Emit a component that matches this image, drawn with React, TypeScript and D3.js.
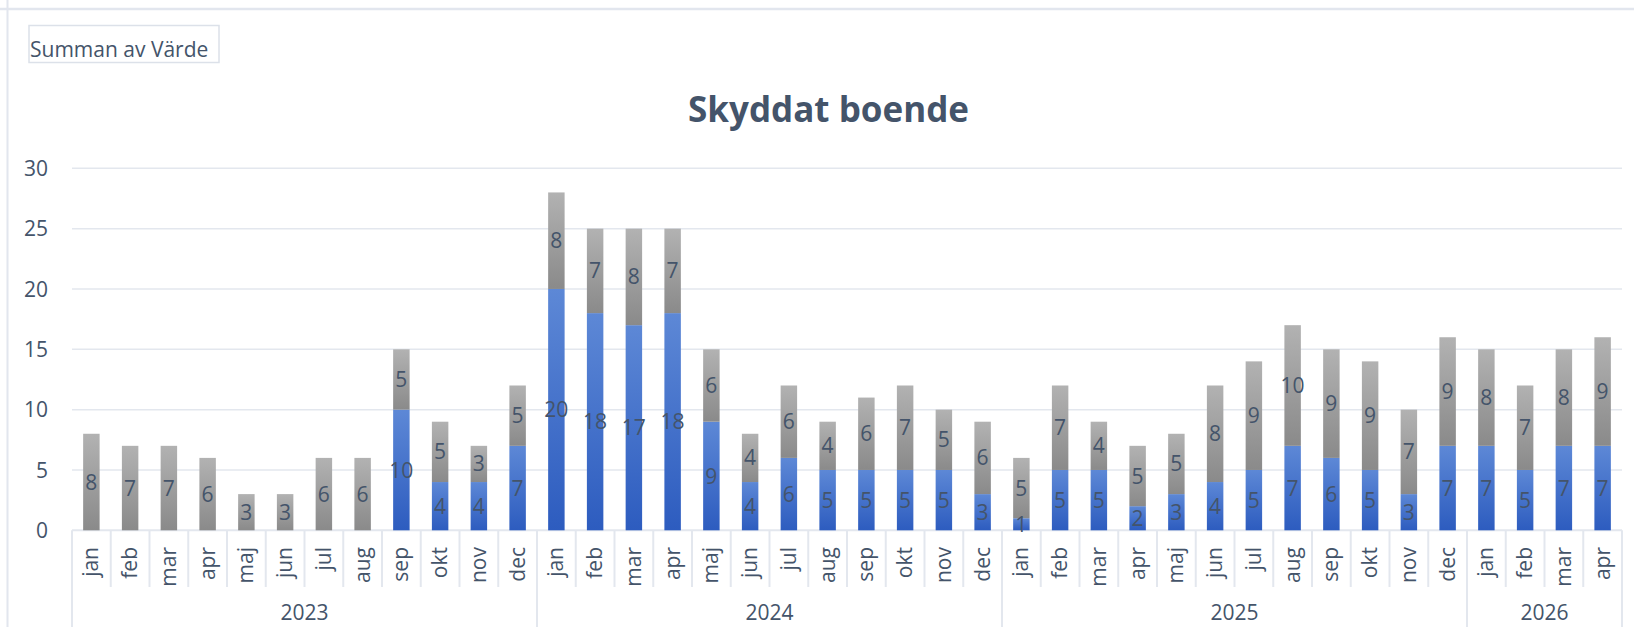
import React from "react";
import * as d3 from "d3";

const years = ["2023", "2024", "2025", "2026"];
const monthsPerYear = [12, 12, 12, 4];
const monthNames = ["jan", "feb", "mar", "apr", "maj", "jun", "jul", "aug", "sep", "okt", "nov", "dec"];
const blueValues = [
  0, 0, 0, 0, 0, 0, 0, 0, 10, 4, 4, 7,
  20, 18, 17, 18, 9, 4, 6, 5, 5, 5, 5, 3,
  1, 5, 5, 2, 3, 4, 5, 7, 6, 5, 3, 7,
  7, 5, 7, 7,
];
const grayValues = [
  8, 7, 7, 6, 3, 3, 6, 6, 5, 5, 3, 5,
  8, 7, 8, 7, 6, 4, 6, 4, 6, 7, 5, 6,
  5, 7, 4, 5, 5, 8, 9, 10, 9, 9, 7, 9,
  8, 7, 8, 9,
];
const yTicks = [0, 5, 10, 15, 20, 25, 30];
const title = "Skyddat boende";
const fieldLabel = "Summan av Värde";

const W = 1634;
const H = 627;
const left = 72;
const right = 1622;
const top = 168.3;
const bottom = 530.3;
const textColor = "#44546A";
const gridColor = "#E3E7EE";
const font = "'Open Sans', 'Noto Sans', sans-serif";
const fs = 21;

type Cat = { key: string; month: string; year: string; blue: number; gray: number };

const cats: Cat[] = [];
{
  let i = 0;
  years.forEach((y, yi) => {
    for (let m = 0; m < monthsPerYear[yi]; m++) {
      cats.push({ key: `${y}-${m}`, month: monthNames[m], year: y, blue: blueValues[i], gray: grayValues[i] });
      i++;
    }
  });
}

export default function App() {
  const x = d3.scaleBand<string>().domain(cats.map((c) => c.key)).range([left, right]).paddingInner(0.575).paddingOuter(0.2875);
  const xOuter = d3.scaleBand<string>().domain(cats.map((c) => c.key)).range([left, right]).padding(0);
  const y = d3.scaleLinear().domain([0, 30]).range([bottom, top]);
  const bw = x.bandwidth();

  const yearGroups: { year: string; x0: number; x1: number }[] = [];
  let idx = 0;
  years.forEach((yr, yi) => {
    const first = cats[idx].key;
    const last = cats[idx + monthsPerYear[yi] - 1].key;
    yearGroups.push({ year: yr, x0: xOuter(first)!, x1: xOuter(last)! + xOuter.bandwidth() });
    idx += monthsPerYear[yi];
  });

  return (
    <svg width={W} height={H} style={{ position: "absolute", left: 0, top: 0, background: "#fff" }}>
      <defs>
        <linearGradient id="gBlue" x1="0" y1="0" x2="0" y2="1">
          <stop offset="0" stopColor="#5D88D6" />
          <stop offset="1" stopColor="#2D5CBF" />
        </linearGradient>
        <linearGradient id="gGray" x1="0" y1="0" x2="0" y2="1">
          <stop offset="0" stopColor="#B2B2B2" />
          <stop offset="1" stopColor="#8A8A8A" />
        </linearGradient>
      </defs>
      {/* frame lines */}
      <line x1={0} x2={W} y1={9} y2={9} stroke="#E2E6EE" strokeWidth={2.5} />
      <line x1={7.5} x2={7.5} y1={0} y2={H} stroke="#E2E6EE" strokeWidth={2} />
      {/* field button */}
      <rect x={29} y={25.5} width={190} height={37} fill="none" stroke="#DCE1E9" strokeWidth={1.5} />
      <text x={30} y={57} fontFamily={font} fontSize={fs} fill={textColor}>{fieldLabel}</text>
      {/* title */}
      <text x={828.5} y={122} textAnchor="middle" fontFamily={font} fontWeight="bold" fontSize={35} fill={textColor}>{title}</text>
      {/* grid */}
      {yTicks.map((t) => (
        <g key={t}>
          <line x1={left} x2={right} y1={y(t)} y2={y(t)} stroke={gridColor} strokeWidth={t === 0 ? 2 : 1.5} />
          <text x={48} y={y(t)} dy="0.36em" textAnchor="end" fontFamily={font} fontSize={fs} fill={textColor}>{t}</text>
        </g>
      ))}
      {/* bars */}
      {cats.map((c) => {
        const bx = x(c.key)!;
        const yb0 = y(0);
        const yb1 = y(c.blue);
        const yg1 = y(c.blue + c.gray);
        return (
          <g key={c.key}>
            {c.blue > 0 && <rect x={bx} y={yb1} width={bw} height={yb0 - yb1} fill="url(#gBlue)" />}
            {c.gray > 0 && <rect x={bx} y={yg1} width={bw} height={yb1 - yg1} fill="url(#gGray)" />}
          </g>
        );
      })}
      {cats.map((c) => {
        const cx = x(c.key)! + bw / 2;
        return (
          <g key={c.key + "l"} fontFamily={font} fontSize={fs} fill={textColor} textAnchor="middle">
            {c.blue > 0 && <text x={cx} y={(y(0) + y(c.blue)) / 2} dy="0.36em">{c.blue}</text>}
            {c.gray > 0 && <text x={cx} y={(y(c.blue) + y(c.blue + c.gray)) / 2} dy="0.36em">{c.gray}</text>}
          </g>
        );
      })}
      {/* category axis */}
      {cats.map((c, i) => {
        const x0 = xOuter(c.key)!;
        const cx = x0 + xOuter.bandwidth() / 2;
        return (
          <g key={c.key + "a"}>
            {i > 0 && <line x1={x0} x2={x0} y1={bottom} y2={587} stroke={gridColor} strokeWidth={2} />}
            <text transform={`translate(${cx + 7},547) rotate(-90)`} textAnchor="end" fontFamily={font} fontSize={fs} fill={textColor}>{c.month}</text>
          </g>
        );
      })}
      {yearGroups.map((g, i) => (
        <g key={g.year}>
          <line x1={g.x0} x2={g.x0} y1={bottom} y2={H} stroke={gridColor} strokeWidth={2} />
          {i === yearGroups.length - 1 && <line x1={g.x1} x2={g.x1} y1={bottom} y2={H} stroke={gridColor} strokeWidth={2} />}
          <text x={(g.x0 + g.x1) / 2} y={620} textAnchor="middle" fontFamily={font} fontSize={fs} fill={textColor}>{g.year}</text>
        </g>
      ))}
    </svg>
  );
}
